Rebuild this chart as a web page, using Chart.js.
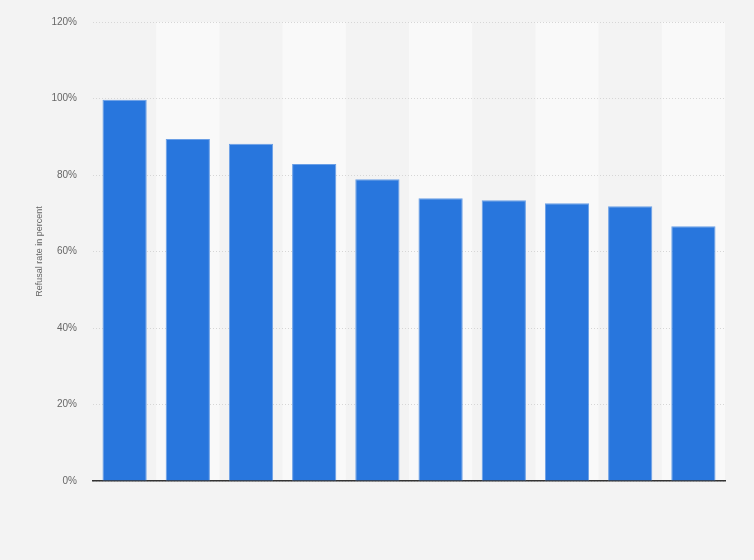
<!DOCTYPE html>
<html>
<head>
  <meta charset="utf-8">
  <title>Refusal rate</title>
  <script src="https://cdn.jsdelivr.net/npm/chart.js"></script>
  <style>
    html, body { margin: 0; padding: 0; background: #f3f3f3; }
    #wrap { width: 754px; height: 560px; }
  </style>
</head>
<body>
  <div id="wrap"><canvas id="chart"></canvas></div>
  <script>
    // data (x labels are not shown in the reference)
    const categories = ['1', '2', '3', '4', '5', '6', '7', '8', '9', '10'];
    const refusalRate = [99.7, 89.4, 88.2, 82.9, 78.9, 73.9, 73.4, 72.6, 71.8, 66.6];
    const yTicks = [0, 20, 40, 60, 80, 100, 120];

    // lighter column bands behind every second category
    const bands = {
      id: 'bands',
      beforeDraw(chart) {
        const { ctx, chartArea, scales } = chart;
        const x = scales.x;
        const step = (chartArea.right - chartArea.left) / categories.length;
        ctx.save();
        ctx.fillStyle = '#f9f9f9';
        categories.forEach((c, i) => {
          if (i % 2 === 1) {
            const cx = x.getPixelForValue(i);
            ctx.fillRect(cx - step / 2, chartArea.top, step, chartArea.bottom - chartArea.top);
          }
        });
        ctx.restore();
      }
    };

    new Chart(document.getElementById('chart'), {
      type: 'bar',
      data: {
        labels: categories,
        datasets: [{
          label: 'Refusal rate',
          data: refusalRate,
          backgroundColor: '#2876dd',
          borderColor: '#6a9fe6',
          borderWidth: 1,
          barPercentage: 0.7,
          categoryPercentage: 1
        }]
      },
      options: {
        responsive: true,
        maintainAspectRatio: false,
        animation: false,
        layout: { padding: { left: 30, right: 29, top: 20, bottom: 79 } },
        plugins: { legend: { display: false }, tooltip: { enabled: false } },
        scales: {
          x: {
            grid: { display: false },
            ticks: { display: false },
            border: { display: true, color: '#333', width: 1.5 },
            afterFit: s => { s.height = 0; }
          },
          y: {
            min: 0,
            max: 120,
            afterBuildTicks: s => { s.ticks = yTicks.map(v => ({ value: v })); },
            afterFit: s => { s.width = 63; },
            grid: { color: '#d6d6d6', drawTicks: false },
            border: { display: false, dash: [1, 2] },
            ticks: {
              padding: 16,
              color: '#666',
              font: { family: 'Liberation Sans, Arial, sans-serif', size: 10 },
              callback: v => v + '%'
            },
            title: {
              display: true,
              text: 'Refusal rate in percent',
              color: '#666',
              padding: { top: 4, bottom: 0 },
              font: { family: 'Liberation Sans, Arial, sans-serif', size: 9 }
            }
          }
        }
      },
      plugins: [bands]
    });
  </script>
</body>
</html>
